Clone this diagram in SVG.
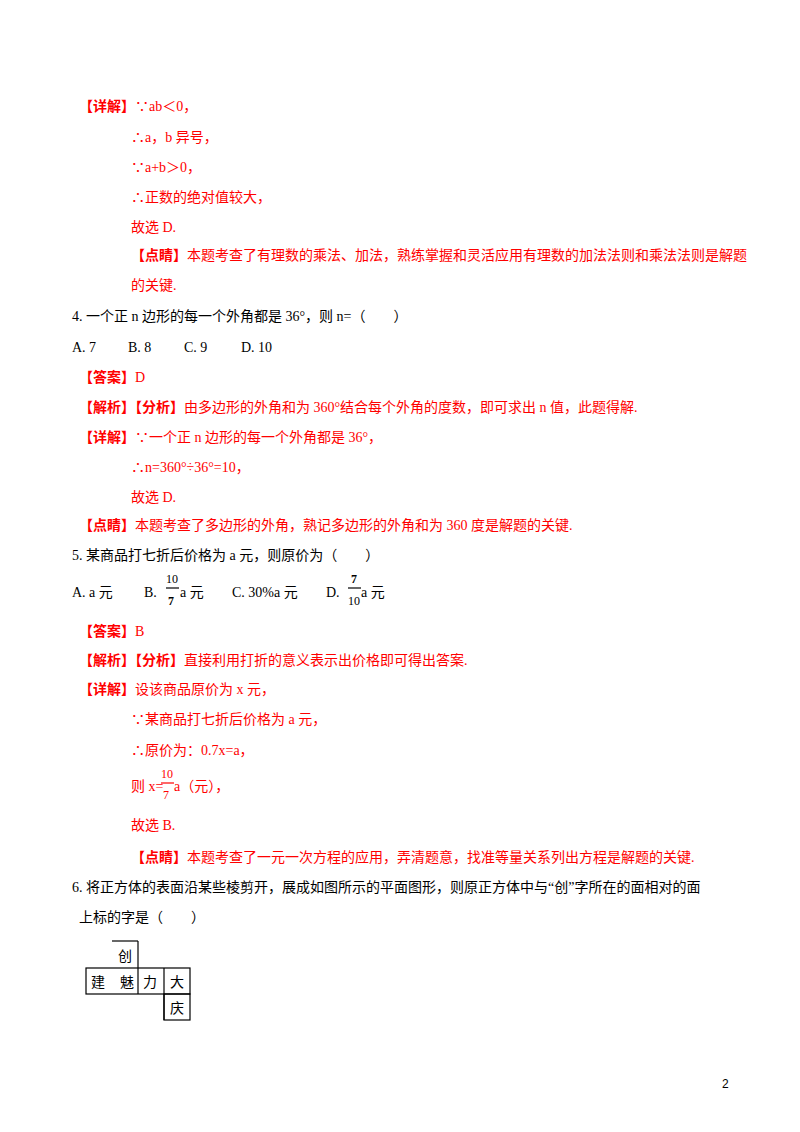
<svg xmlns="http://www.w3.org/2000/svg" width="800" height="1132" viewBox="0 0 800 1132">
<style>
text{font-family:"Liberation Serif","Noto Sans CJK SC",serif;font-size:14px}
.r{fill:#f00}.k{fill:#000}.b{font-weight:bold}
.s{font-size:12px}
line{stroke:#000;stroke-width:1.2}
</style>
<rect width="800" height="1132" fill="#fff"/>
<g class="r">
<text x="79" y="111"><tspan class="b">【详解】</tspan>∵ab＜0，</text>
<text x="131" y="142">∴a，b 异号，</text>
<text x="131" y="172">∵a+b＞0，</text>
<text x="131" y="202">∴正数的绝对值较大，</text>
<text x="131" y="232">故选 D.</text>
<text x="131" y="260"><tspan class="b">【点睛】</tspan>本题考查了有理数的乘法、加法，熟练掌握和灵活应用有理数的加法法则和乘法法则是解题</text>
<text x="131" y="290">的关键.</text>
</g>
<text class="k" x="72" y="321">4.  一个正 n 边形的每一个外角都是 36°，则 n=（　　）</text>
<g class="k">
<text x="72" y="352">A.  7</text><text x="128" y="352">B.  8</text><text x="184" y="352">C.  9</text><text x="241" y="352">D.  10</text>
</g>
<g class="r">
<text x="79" y="382"><tspan class="b">【答案】</tspan>D</text>
<text x="79" y="412"><tspan class="b">【解析】【分析】</tspan>由多边形的外角和为 360°结合每个外角的度数，即可求出 n 值，此题得解.</text>
<text x="79" y="442"><tspan class="b">【详解】</tspan>∵一个正 n 边形的每一个外角都是 36°，</text>
<text x="131" y="472">∴n=360°÷36°=10，</text>
<text x="131" y="502">故选 D.</text>
<text x="79" y="530"><tspan class="b">【点睛】</tspan>本题考查了多边形的外角，熟记多边形的外角和为 360 度是解题的关键.</text>
</g>
<text class="k" x="72" y="560">5.  某商品打七折后价格为 a 元，则原价为（　　）</text>
<g class="k">
<text x="72" y="597">A.  a 元</text>
<text x="144" y="597">B.</text>
<text class="s" x="166" y="583">10</text><line x1="166" y1="588" x2="179" y2="588"/><text class="s b" x="168" y="605">7</text>
<text x="180" y="597">a 元</text>
<text x="232" y="597">C.  30%a 元</text>
<text x="326" y="597">D.</text>
<text class="s b" x="351" y="583">7</text><line x1="348" y1="588" x2="361" y2="588"/><text class="s" x="348" y="605">10</text>
<text x="361" y="597">a 元</text>
</g>
<g class="r">
<text x="79" y="636"><tspan class="b">【答案】</tspan>B</text>
<text x="79" y="665"><tspan class="b">【解析】【分析】</tspan>直接利用打折的意义表示出价格即可得出答案.</text>
<text x="79" y="694"><tspan class="b">【详解】</tspan>设该商品原价为 x 元，</text>
<text x="131" y="724">∵某商品打七折后价格为 a 元，</text>
<text x="131" y="755">∴原价为：0.7x=a，</text>
<text class="s" x="161" y="778">10</text><line x1="161" y1="783" x2="174" y2="783" style="stroke:#f00"/><text class="s" x="163" y="799">7</text>
<text x="131" y="791">则 x=</text><text x="174" y="791">a（元），</text>
<text x="131" y="830">故选 B.</text>
<text x="131" y="862"><tspan class="b">【点睛】</tspan>本题考查了一元一次方程的应用，弄清题意，找准等量关系列出方程是解题的关键.</text>
</g>
<text class="k" x="72" y="892">6.  将正方体的表面沿某些棱剪开，展成如图所示的平面图形，则原正方体中与“创”字所在的面相对的面</text>
<text class="k" x="79" y="922">上标的字是（　　）</text>
<g id="net" fill="none">
<line x1="112" y1="941" x2="138" y2="941"/><line x1="138" y1="941" x2="138" y2="968"/>
<rect x="86" y="968" width="104" height="26" stroke="#000" stroke-width="1.2"/>
<line x1="138" y1="968" x2="138" y2="994"/><line x1="164" y1="968" x2="164" y2="1020"/>
<rect x="164" y="994" width="26" height="26" stroke="#000" stroke-width="1.2"/>
</g>
<g class="k" font-size="13">
<text x="118" y="961">创</text><text x="91" y="987">建</text><text x="120" y="987">魅</text>
<text x="143" y="987">力</text><text x="170" y="987">大</text><text x="170" y="1013">庆</text>
</g>
<text class="k" x="722" y="1088" style="font-family:'Liberation Sans',sans-serif;font-size:12px">2</text>
</svg>
